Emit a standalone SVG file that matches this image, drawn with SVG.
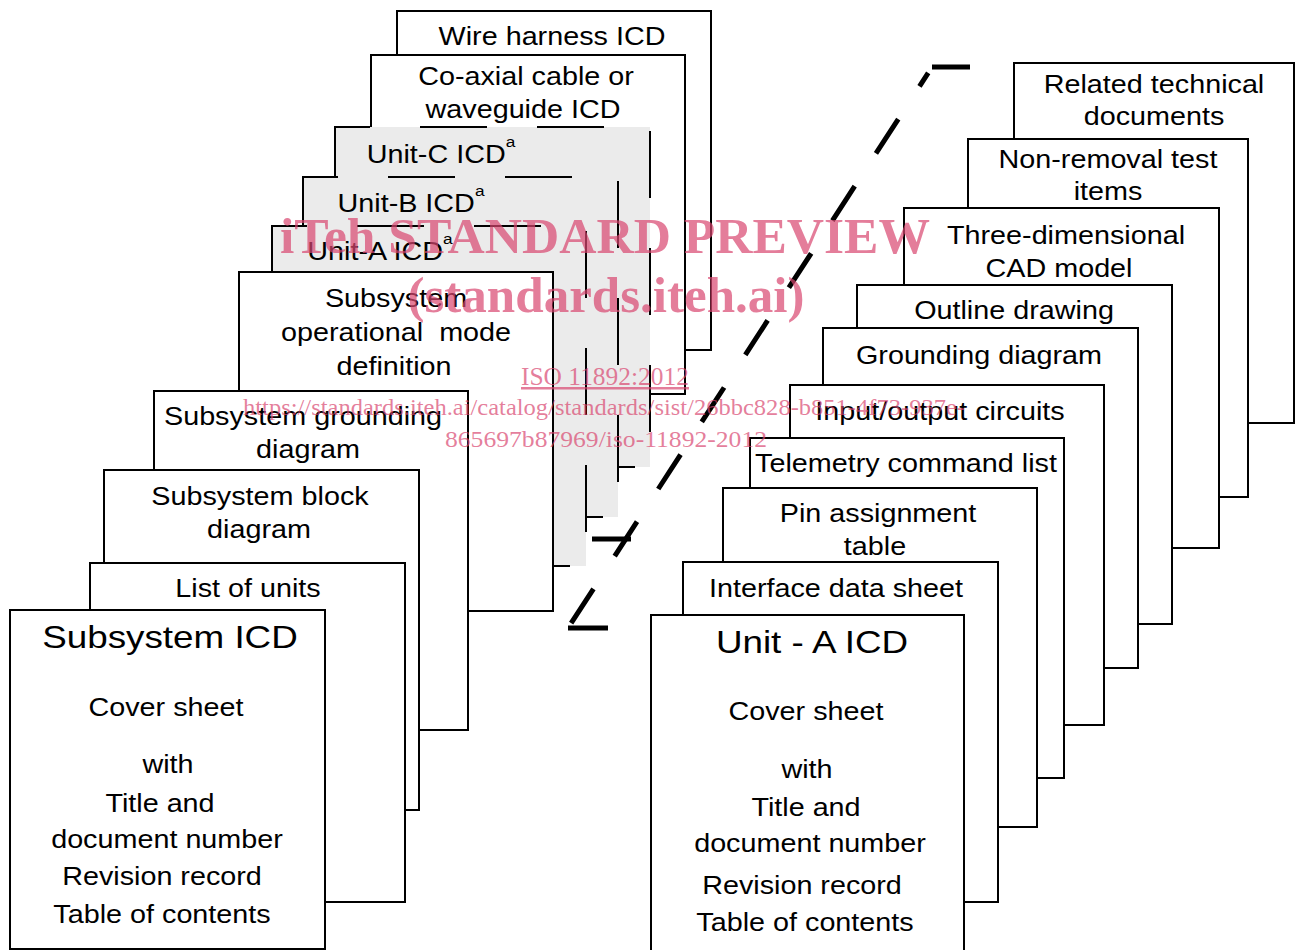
<svg xmlns="http://www.w3.org/2000/svg" width="1301" height="950" viewBox="0 0 1301 950">
<style>
.box{fill:#fff;stroke:#000;stroke-width:2}
.unit{fill:#ebebeb;stroke:#000;stroke-width:2;stroke-dasharray:67 50;stroke-dashoffset:32}
.t{font-family:"Liberation Sans",Arial,Helvetica,sans-serif;font-size:25px;text-anchor:middle;fill:#000}
.big{font-size:32px}
.sup{font-size:15px}
.conn{stroke:#000;stroke-width:5;fill:none}
.wm{font-family:"Liberation Serif","Times New Roman",serif;fill:#d9466f;fill-opacity:0.7;text-anchor:middle}
</style>
<rect width="1301" height="950" fill="#fff"/>
<g id="wire-harness"><rect class="box" x="397" y="11" width="314" height="339"/>
<text class="t" transform="translate(552 45) scale(1.15 1)">Wire harness ICD</text></g>
<g id="coaxial"><rect class="box" x="371" y="55" width="314" height="339"/>
<text class="t" transform="translate(526 85) scale(1.15 1)">Co-axial cable or</text>
<text class="t" transform="translate(523 118) scale(1.15 1)">waveguide ICD</text></g>
<g id="unit-c"><rect class="unit" x="335" y="127" width="315" height="340"/>
<text class="t" transform="translate(441 163) scale(1.15 1)">Unit-C ICD<tspan class="sup" dy="-16">a</tspan></text></g>
<g id="unit-b"><rect class="unit" x="303" y="177" width="315" height="340"/>
<text class="t" transform="translate(411 212) scale(1.15 1)">Unit-B ICD<tspan class="sup" dy="-16">a</tspan></text></g>
<g id="unit-a"><rect class="unit" x="272" y="226" width="314" height="340"/>
<text class="t" transform="translate(380 260) scale(1.15 1)">Unit-A ICD<tspan class="sup" dy="-16">a</tspan></text></g>
<g id="op-mode"><rect class="box" x="239" y="272" width="314" height="339"/>
<text class="t" transform="translate(396 307) scale(1.15 1)">Subsystem</text>
<text class="t" style="white-space:pre" transform="translate(396 341) scale(1.15 1)">operational  mode</text>
<text class="t" transform="translate(394 375) scale(1.15 1)">definition</text></g>
<g id="sub-grounding"><rect class="box" x="154" y="391" width="314" height="339"/>
<text class="t" transform="translate(303 425) scale(1.15 1)">Subsystem grounding</text>
<text class="t" transform="translate(308 458) scale(1.15 1)">diagram</text></g>
<g id="sub-block"><rect class="box" x="104" y="470" width="315" height="340"/>
<text class="t" transform="translate(260 505) scale(1.15 1)">Subsystem block</text>
<text class="t" transform="translate(259 538) scale(1.15 1)">diagram</text></g>
<g id="list-units"><rect class="box" x="90" y="563" width="315" height="339"/>
<text class="t" transform="translate(248 597) scale(1.15 1)">List of units</text></g>
<g id="subsystem-icd"><rect class="box" x="10" y="610" width="315" height="339"/>
<text class="t big" transform="translate(170 648) scale(1.15 1)">Subsystem ICD</text>
<text class="t" transform="translate(166 716) scale(1.15 1)">Cover sheet</text>
<text class="t" transform="translate(168 773) scale(1.15 1)">with</text>
<text class="t" transform="translate(160 812) scale(1.15 1)">Title and</text>
<text class="t" transform="translate(167 848) scale(1.15 1)">document number</text>
<text class="t" transform="translate(162 885) scale(1.15 1)">Revision record</text>
<text class="t" transform="translate(162 923) scale(1.15 1)">Table of contents</text></g>

<g id="related"><rect class="box" x="1014" y="63" width="280" height="360"/>
<text class="t" transform="translate(1154 93) scale(1.15 1)">Related technical</text>
<text class="t" transform="translate(1154 125) scale(1.15 1)">documents</text></g>
<g id="non-removal"><rect class="box" x="968" y="139" width="280" height="358"/>
<text class="t" transform="translate(1108 168) scale(1.15 1)">Non-removal test</text>
<text class="t" transform="translate(1108 200) scale(1.15 1)">items</text></g>
<g id="cad-model"><rect class="box" x="904" y="208" width="315" height="340"/>
<text class="t" transform="translate(1066 244) scale(1.15 1)">Three-dimensional</text>
<text class="t" transform="translate(1059 277) scale(1.15 1)">CAD model</text></g>
<g id="outline"><rect class="box" x="857" y="285" width="315" height="339"/>
<text class="t" transform="translate(1014 319) scale(1.15 1)">Outline drawing</text></g>
<g id="grounding"><rect class="box" x="823" y="328" width="315" height="340"/>
<text class="t" transform="translate(979 364) scale(1.15 1)">Grounding diagram</text></g>
<g id="io-circuits"><rect class="box" x="790" y="385" width="314" height="340"/>
<text class="t" transform="translate(940 420) scale(1.15 1)">Input/output circuits</text></g>
<g id="telemetry"><rect class="box" x="750" y="438" width="314" height="340"/>
<text class="t" transform="translate(906 472) scale(1.15 1)">Telemetry command list</text></g>
<g id="pin-assignment"><rect class="box" x="723" y="488" width="314" height="339"/>
<text class="t" transform="translate(878 522) scale(1.15 1)">Pin assignment</text>
<text class="t" transform="translate(875 555) scale(1.15 1)">table</text></g>
<g id="interface-data"><rect class="box" x="683" y="562" width="315" height="340"/>
<text class="t" transform="translate(836 597) scale(1.15 1)">Interface data sheet</text></g>
<g id="unit-a-icd"><rect class="box" x="651" y="615" width="313" height="345"/>
<text class="t big" transform="translate(812 653) scale(1.15 1)">Unit - A ICD</text>
<text class="t" transform="translate(806 720) scale(1.15 1)">Cover sheet</text>
<text class="t" transform="translate(807 778) scale(1.15 1)">with</text>
<text class="t" transform="translate(806 816) scale(1.15 1)">Title and</text>
<text class="t" transform="translate(810 852) scale(1.15 1)">document number</text>
<text class="t" transform="translate(802 894) scale(1.15 1)">Revision record</text>
<text class="t" transform="translate(805 931) scale(1.15 1)">Table of contents</text></g>

<g id="connectors">
<line class="conn" x1="932" y1="67" x2="970" y2="67"/>
<line class="conn" x1="928.2" y1="72.9" x2="570" y2="625" style="stroke-dasharray:41 39;stroke-dashoffset:25"/>
<line class="conn" x1="568" y1="628" x2="608" y2="628"/>
<line class="conn" x1="592" y1="539" x2="631" y2="539"/>
</g>

<g id="watermark">
<text class="wm" x="605" y="253" font-size="51" font-weight="bold" textLength="650" lengthAdjust="spacingAndGlyphs">iTeh STANDARD PREVIEW</text>
<text class="wm" x="606" y="312" font-size="51" font-weight="bold" textLength="397" lengthAdjust="spacingAndGlyphs">(standards.iteh.ai)</text>
<text class="wm" x="605" y="385" font-size="25" text-decoration="underline" textLength="168" lengthAdjust="spacingAndGlyphs">ISO 11892:2012</text>
<text class="wm" x="604" y="415" font-size="24" textLength="722" lengthAdjust="spacingAndGlyphs">https://standards.iteh.ai/catalog/standards/sist/26bbc828-b851-4f73-937e-</text>
<text class="wm" x="606" y="447" font-size="24" textLength="322" lengthAdjust="spacingAndGlyphs">865697b87969/iso-11892-2012</text>
</g>
</svg>
